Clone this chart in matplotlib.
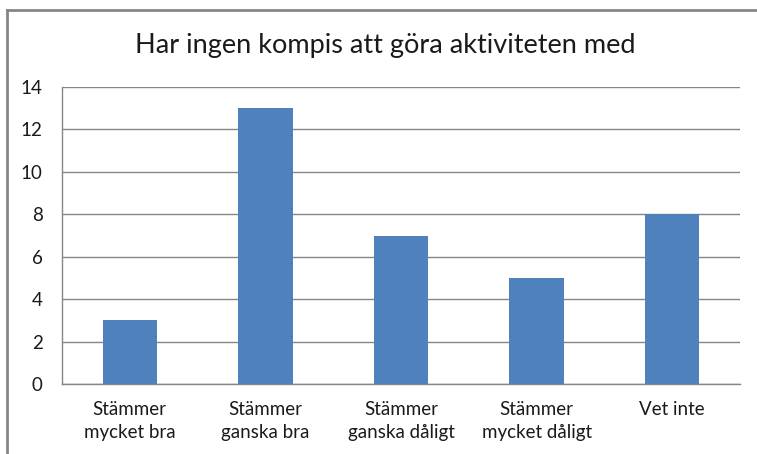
import matplotlib.pyplot as plt
from matplotlib.lines import Line2D

categories = ["Stämmer\nmycket bra", "Stämmer\nganska bra", "Stämmer\nganska dåligt",
              "Stämmer\nmycket dåligt", "Vet inte"]
values = [3, 13, 7, 5, 8]
yticks = [0, 2, 4, 6, 8, 10, 12, 14]
title = "Har ingen kompis att göra aktiviteten med"

plt.rcParams['font.family'] = ['Lato', 'DejaVu Sans']

W, H = 757, 454
fig = plt.figure(figsize=(W / 100, H / 100), dpi=100)
fig.patch.set_facecolor('white')

# outer chart border: only top and left edges are inside the picture
bx, by = 7 / W, 1 - 10 / H
fig.lines.append(Line2D([bx, 1.0], [by, by], transform=fig.transFigure,
                        color='#868686', lw=2))
fig.lines.append(Line2D([bx, bx], [0.0, by], transform=fig.transFigure,
                        color='#868686', lw=2))

ax = fig.add_axes([62 / W, 1 - 384 / H, (740 - 62) / W, (384 - 87) / H])
x = range(len(categories))
ax.bar(x, values, width=0.4, color='#4F81BD', zorder=3)
ax.set_xlim(-0.5, len(categories) - 0.5)
ax.set_ylim(0, 14)
ax.set_yticks(yticks)
ax.set_xticks(list(x))
ax.set_xticklabels(categories, fontsize=13.5, color='#1a1a1a', linespacing=1.45)
ax.tick_params(axis='y', labelsize=13.5, colors='#1a1a1a', length=0, pad=14)
ax.tick_params(axis='x', length=0, pad=12)
ax.grid(axis='y', color='#868686', lw=1, zorder=0)
for s in ['top', 'right']:
    ax.spines[s].set_visible(False)
for s in ['left', 'bottom']:
    ax.spines[s].set_color('#868686')
    ax.spines[s].set_linewidth(1)

fig.text(0.5 * (137 + 634) / W, 1 - 45 / H, title, ha='center', va='center',
         fontsize=19.5, color='#1a1a1a')

fig.savefig('out.png', dpi=100)
